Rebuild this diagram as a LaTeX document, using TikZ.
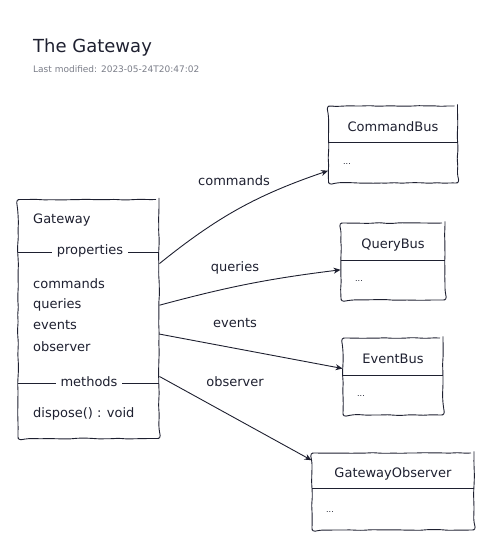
\documentclass[tikz,border=0pt]{standalone}
\usepackage{fontspec}
\setmainfont{DejaVu Sans}
\usetikzlibrary{decorations.pathmorphing,arrows.meta}
\definecolor{ink}{HTML}{1E2030}
\definecolor{note}{HTML}{7A7D88}

\begin{document}
\begin{tikzpicture}[x=1pt, y=-1pt, font=\fontsize{13}{15}\selectfont, text=ink]
    \tikzstyle{box_style} = [draw=ink, line width=0.9, rounded corners=3, fill=white, inner sep=0,
        decorate, decoration={random steps, segment length=7, amplitude=0.45}]
    \tikzstyle{rule_style} = [draw=ink, line width=0.8]
    \tikzstyle{sep_style} = [fill=white, inner xsep=5, inner ysep=1]
    \tikzstyle{arrow_style} = [-{Stealth[length=7, width=6]}, draw=ink, line width=0.9]
    \tikzstyle{dots_style} = [font=\fontsize{8}{9}\selectfont, anchor=base west]
    \pgfmathsetseed{7}

    \useasboundingbox (0,0) rectangle (484,542);

    % heading
    \node[anchor=base west, inner sep=0, font=\fontsize{18}{20}\selectfont] (title) at (33,52) {The Gateway};
    \node[anchor=base west, inner sep=0, text=note, font=\fontsize{9}{10}\selectfont] (modified) at (33,72) {Last modified: 2023-05-24T20:47:02};

    % the gateway class
    \node[box_style, minimum width=141, minimum height=239] (gw) at (88.5,319) {};
    \node[anchor=base west, inner sep=0] (gw_name) at (33,223) {Gateway};
    \draw[rule_style] (gw.west |- 0,252) -- (gw.east |- 0,252);
    \node[sep_style] (gw_props) at (90,251) {properties};
    \node[anchor=base west, inner sep=0] (gw_p1) at (33,288) {commands};
    \node[anchor=base west, inner sep=0] (gw_p2) at (33,308) {queries};
    \node[anchor=base west, inner sep=0] (gw_p3) at (33,329) {events};
    \node[anchor=base west, inner sep=0] (gw_p4) at (33,351) {observer};
    \draw[rule_style] (gw.west |- 0,383) -- (gw.east |- 0,383);
    \node[sep_style] (gw_methods) at (89,382) {methods};
    \node[anchor=base west, inner sep=0] (gw_m1) at (33,417) {dispose() : void};

    % the buses
    \node[box_style, minimum width=129, minimum height=77] (cmd_bus) at (393,144.5) {};
    \draw[rule_style] (cmd_bus.west |- 0,142) -- (cmd_bus.east |- 0,142);
    \node[anchor=base, inner sep=0] (cmd_name) at (393,131) {CommandBus};
    \node[dots_style, inner sep=0] (cmd_dots) at (343,164) {...};

    \node[box_style, minimum width=104, minimum height=77] (qry_bus) at (393,261.5) {};
    \draw[rule_style] (qry_bus.west |- 0,260) -- (qry_bus.east |- 0,260);
    \node[anchor=base, inner sep=0] (qry_name) at (393,248) {QueryBus};
    \node[dots_style, inner sep=0] (qry_dots) at (355,281) {...};

    \node[box_style, minimum width=100, minimum height=77] (evt_bus) at (393,376.5) {};
    \draw[rule_style] (evt_bus.west |- 0,375) -- (evt_bus.east |- 0,375);
    \node[anchor=base, inner sep=0] (evt_name) at (393,363) {EventBus};
    \node[dots_style, inner sep=0] (evt_dots) at (357,396) {...};

    \node[box_style, minimum width=162, minimum height=77] (obs) at (393,491.5) {};
    \draw[rule_style] (obs.west |- 0,488) -- (obs.east |- 0,488);
    \node[anchor=base, inner sep=0] (obs_name) at (393,477) {GatewayObserver};
    \node[dots_style, inner sep=0] (obs_dots) at (326,512) {...};

    % connectors
    \draw[arrow_style] (gw.38) to[bend left=10] (cmd_bus.202);
    \draw[arrow_style] (gw.11) to[bend left=4] (qry_bus.189);
    \draw[arrow_style] (gw.-12) -- (evt_bus.171.5);
    \draw[arrow_style] (gw.-39) -- (obs.159.4);

    \node[anchor=base, inner sep=0] (lbl_commands) at (234,185) {commands};
    \node[anchor=base, inner sep=0] (lbl_queries) at (235,271) {queries};
    \node[anchor=base, inner sep=0] (lbl_events) at (235,327) {events};
    \node[anchor=base, inner sep=0] (lbl_observer) at (235,386) {observer};
\end{tikzpicture}
\end{document}
